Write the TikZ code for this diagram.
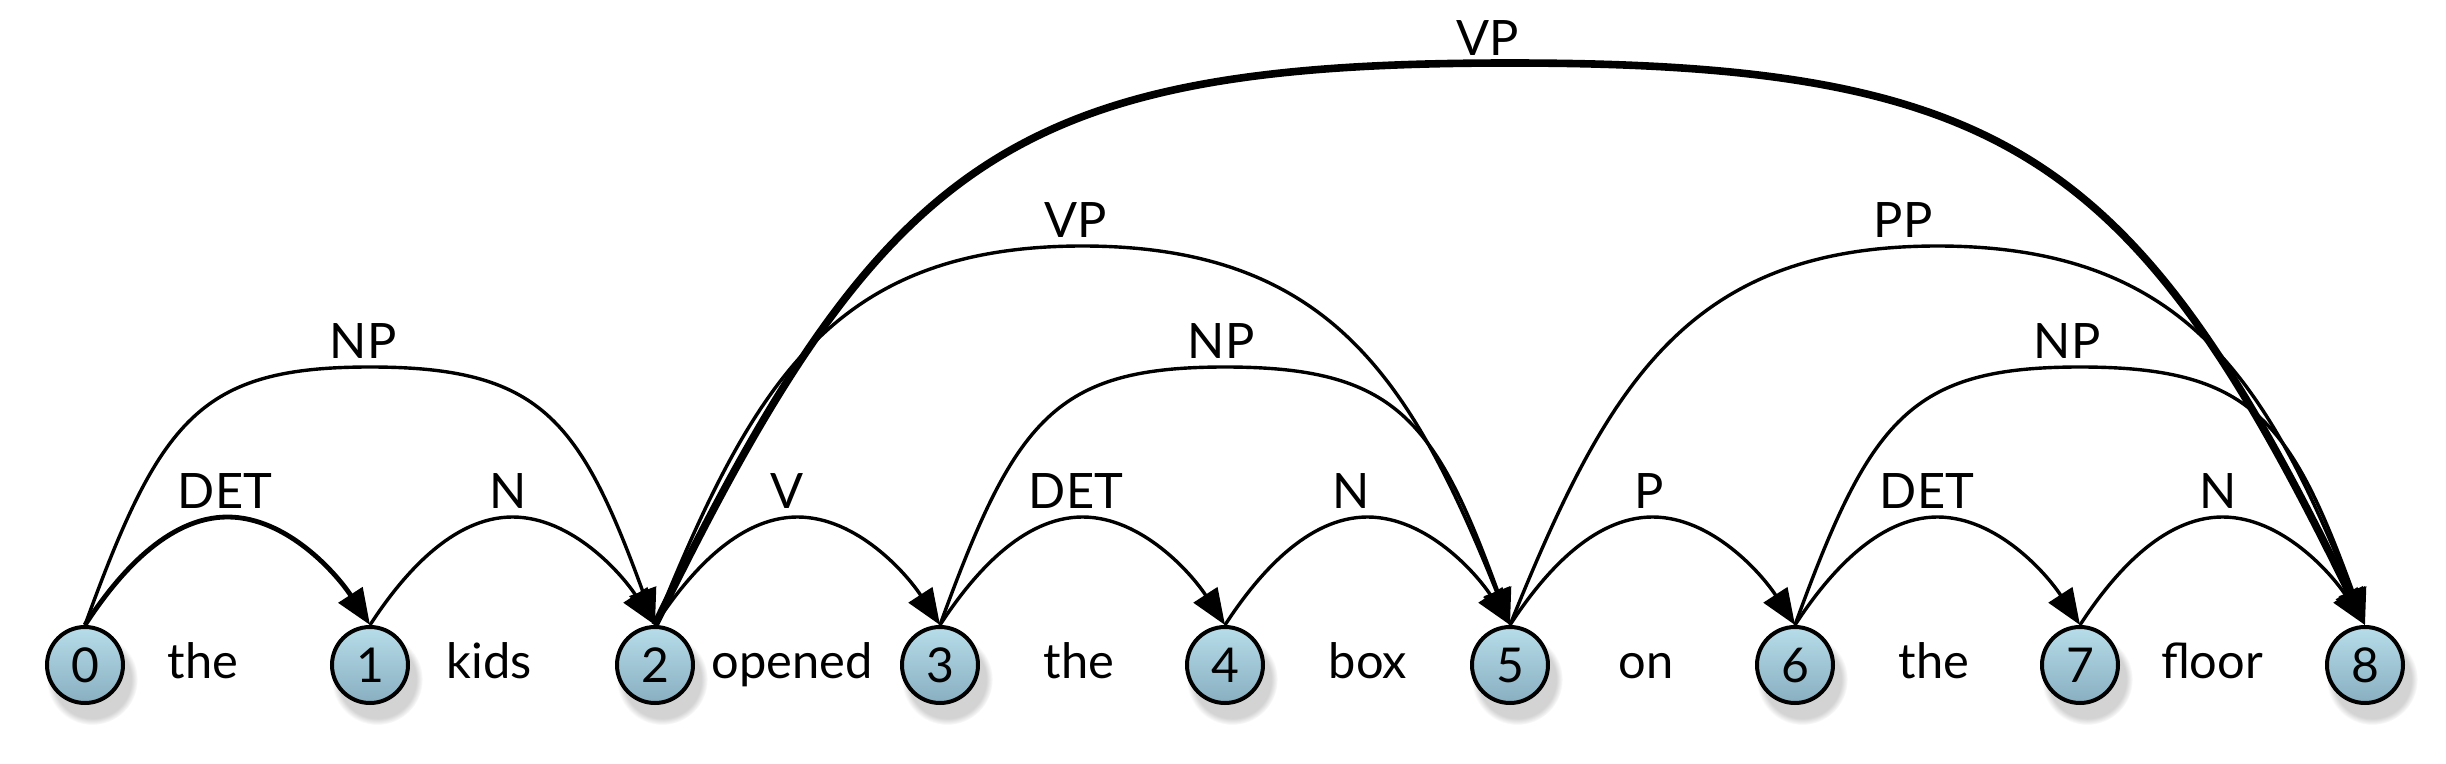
\documentclass[tikz,border=0pt]{standalone}
\usepackage{fontspec}
\setmainfont{Lato}
\usetikzlibrary{arrows.meta,calc,shadows}
\definecolor{nodetop}{HTML}{B7DDEA}
\definecolor{nodebot}{HTML}{88AFC0}
\tikzset{
  state/.style={circle,draw=black,line width=1pt,minimum size=19pt,inner sep=0pt,
    top color=nodetop,bottom color=nodebot,
    circular drop shadow={shadow xshift=1.5pt,shadow yshift=-3pt,shadow scale=1.2,opacity=0.35},
    font=\fontsize{12}{14}\selectfont},
  word/.style={anchor=base,font=\fontsize{12.2}{14}\selectfont,inner sep=0pt},
  lab/.style={anchor=base,font=\fontsize{12.2}{14}\selectfont,inner sep=0pt},
  edge/.style={line width=0.85pt,-{Triangle[length=9pt,width=7pt]}},
  thickedge/.style={line width=1.9pt},
  boldedge/.style={line width=1.2pt}
}
\newcommand\arcedge[7]{%
  \coordinate (top#1#2) at ({0.5*(170+285*#1+285*#2)},#3);
  \draw[edge,#7] (n#1.north) .. controls ($(n#1.north)+(#4:#5)$) and ($(top#1#2)+(-#6,0)$) .. (top#1#2)
    .. controls ($(top#1#2)+(#6,0)$) and ($(n#2.north)+(180-#4:#5)$) .. (n#2.north);}
\begin{document}
\begin{tikzpicture}[x=0.25pt,y=0.25pt]
\useasboundingbox (0,0) rectangle (2446,763);
% nodes
\foreach \i in {0,...,8}{
  \node[state] (n\i) at ({85+285*\i},98) {\i};
}
% words
\node[word] (w1) at (203,85) {the};
\node[word] (w2) at (489,85) {kids};
\node[word] (w3) at (792,85) {opened};
\node[word] (w4) at (1079,85) {the};
\node[word] (w5) at (1368,85) {box};
\node[word] (w6) at (1646,85) {on};
\node[word] (w7) at (1934,85) {the};
\node[word] (w8) at (2212,85) {floor};
% span-1 edges
\arcedge{0}{1}{246}{57}{60}{60}{boldedge}
\arcedge{1}{2}{246}{57}{60}{60}{}
\arcedge{2}{3}{246}{57}{60}{60}{}
\arcedge{3}{4}{246}{57}{60}{60}{}
\arcedge{4}{5}{246}{57}{60}{60}{}
\arcedge{5}{6}{246}{57}{60}{60}{}
\arcedge{6}{7}{246}{57}{60}{60}{}
\arcedge{7}{8}{246}{57}{60}{60}{}
% span-2 edges
\arcedge{0}{2}{396}{70}{220}{170}{}
\arcedge{3}{5}{396}{70}{220}{170}{}
\arcedge{6}{8}{396}{70}{220}{170}{}
% span-3 edges
\arcedge{2}{5}{517}{68}{260}{250}{}
\arcedge{5}{8}{517}{68}{260}{250}{}
% span-6 edge
\arcedge{2}{8}{700}{64}{520}{500}{thickedge}
% labels
\node[lab] (l01) at (225,255) {DET};
\node[lab] (l12) at (508,255) {N};
\node[lab] (l23) at (787,255) {V};
\node[lab] (l34) at (1076,255) {DET};
\node[lab] (l45) at (1351,255) {N};
\node[lab] (l56) at (1649,255) {P};
\node[lab] (l67) at (1927,255) {DET};
\node[lab] (l78) at (2218,255) {N};
\node[lab] (l02) at (363,405) {NP};
\node[lab] (l35) at (1221,405) {NP};
\node[lab] (l68) at (2067,405) {NP};
\node[lab] (l25) at (1076,526) {VP};
\node[lab] (l58) at (1903,526) {PP};
\node[lab] (l28) at (1488,708) {VP};
\end{tikzpicture}
\end{document}
